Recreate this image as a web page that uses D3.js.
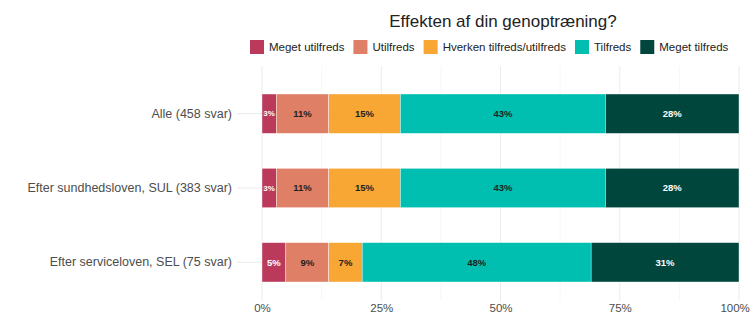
<!DOCTYPE html>
<html>
<head>
<meta charset="utf-8">
<script src="https://cdn.jsdelivr.net/npm/d3@7"></script>
<style>
body { margin: 0; background: #fff; overflow: hidden; }
text { font-family: "Liberation Sans", Arial, sans-serif; }
</style>
</head>
<body>
<svg class="chart"></svg>
<script>
var categories = ["Alle (458 svar)", "Efter sundhedsloven, SUL (383 svar)", "Efter serviceloven, SEL (75 svar)"];
var answers = ["Meget utilfreds", "Utilfreds", "Hverken tilfreds/utilfreds", "Tilfreds", "Meget tilfreds"];
var colors = ["#bb3a5c", "#df7f66", "#f8a634", "#00bfb0", "#00463d"];
var textColors = ["#ffffff", "#222222", "#222222", "#222222", "#ffffff"];
var megetUtilfreds = [3, 3, 5];
var utilfreds = [11, 11, 9];
var hverken = [15, 15, 7];
var tilfreds = [43, 43, 48];
var megetTilfreds = [28, 28, 31];
var tickValues = [0, 0.25, 0.5, 0.75, 1];

var totalWidth = 751, totalHeight = 317;
var margin = {top: 66, right: 10, bottom: 14, left: 262};
var width = totalWidth - margin.left - margin.right;
var height = totalHeight - margin.top - margin.bottom;

var series = [megetUtilfreds, utilfreds, hverken, tilfreds, megetTilfreds];
var rows = categories.map(function(c, i) {
	var row = {category: c};
	answers.forEach(function(a, j) { row[a] = series[j][i]; });
	return row;
});
var stacked = d3.stack().keys(answers)(rows);

var x = d3.scaleLinear().domain([0, 100]).range([0, width - 2]);
var y = d3.scaleBand().domain(categories).range([28, 216]).paddingInner(0.47).paddingOuter(0);

var svg = d3.select(".chart")
	.attr("width", totalWidth)
	.attr("height", totalHeight);

var chart = svg.append("g")
	.attr("transform", "translate(" + margin.left + "," + margin.top + ")");

// gridlines
chart.append("g").selectAll("line")
	.data(d3.range(0.125, 1, 0.25))
	.enter().append("line")
	.attr("x1", d => x(d * 100)).attr("x2", d => x(d * 100))
	.attr("y1", 0).attr("y2", height - 2)
	.attr("stroke", "#f2f2f2").attr("stroke-width", 0.6);

chart.append("g").selectAll("line")
	.data(tickValues)
	.enter().append("line")
	.attr("x1", d => x(d * 100)).attr("x2", d => x(d * 100))
	.attr("y1", 0).attr("y2", height - 2)
	.attr("stroke", "#ebebeb").attr("stroke-width", 1);

chart.append("g").selectAll("line")
	.data(categories)
	.enter().append("line")
	.attr("x1", -25).attr("x2", width)
	.attr("y1", d => y(d) + y.bandwidth() / 2).attr("y2", d => y(d) + y.bandwidth() / 2)
	.attr("stroke", "#ebebeb").attr("stroke-width", 1);

var layers = chart.selectAll(".layer")
	.data(stacked)
	.enter().append("g")
	.attr("class", "layer")
	.attr("fill", (d, i) => colors[i]);

layers.selectAll("rect")
	.data(d => d)
	.enter().append("rect")
	.attr("x", d => x(d[0]))
	.attr("y", d => y(d.data.category))
	.attr("width", d => x(d[1]) - x(d[0]))
	.attr("height", y.bandwidth())
	.attr("stroke", "#ffffff")
	.attr("stroke-width", 0.4);

layers.selectAll("text")
	.data((d, i) => d.map(p => ({p: p, i: i})))
	.enter().append("text")
	.attr("x", d => x((d.p[0] + d.p[1]) / 2))
	.attr("y", d => y(d.p.data.category) + y.bandwidth() / 2)
	.attr("dy", "0.35em")
	.attr("text-anchor", "middle")
	.attr("font-size", d => (d.p[1] - d.p[0]) < 4 ? 8 : 9.5)
	.attr("font-weight", "bold")
	.attr("fill", d => textColors[d.i])
	.text(d => (d.p[1] - d.p[0]) + "%");

// axes
var xAxis = d3.axisBottom(x).tickValues(tickValues.map(v => v * 100))
	.tickFormat(d => d + "%").tickSize(0).tickPadding(1);
var gx = chart.append("g")
	.attr("transform", "translate(0," + height + ")")
	.call(xAxis);
gx.select(".domain").remove();
gx.selectAll("text").attr("fill", "#4d4d4d").attr("font-size", 11.5);
gx.selectAll(".tick:last-of-type text").attr("text-anchor", "end").attr("dx", "0.9em");

var yAxis = d3.axisLeft(y).tickSize(0).tickPadding(30);
var gy = chart.append("g").call(yAxis);
gy.select(".domain").remove();
gy.selectAll("text").attr("fill", "#4d4d4d").attr("font-size", 12.5);

// title
svg.append("text")
	.attr("x", 503).attr("y", 27)
	.attr("text-anchor", "middle")
	.attr("font-size", 17)
	.attr("fill", "#222")
	.text("Effekten af din genoptræning?");

// legend, laid out from left so that the last label stays inside
var legend = svg.append("g").attr("transform", "translate(250,40)");
var lx = 0;
answers.forEach(function(a, i) {
	var item = legend.append("g").attr("transform", "translate(" + lx + ",0)");
	item.append("rect")
		.attr("width", 14).attr("height", 14)
		.attr("fill", colors[i]);
	var t = item.append("text")
		.attr("x", 19).attr("y", 7).attr("dy", "0.35em")
		.attr("font-size", 11.5)
		.attr("fill", "#222")
		.text(a);
	lx += 19 + t.node().getComputedTextLength() + 9;
});
</script>
</body>
</html>
